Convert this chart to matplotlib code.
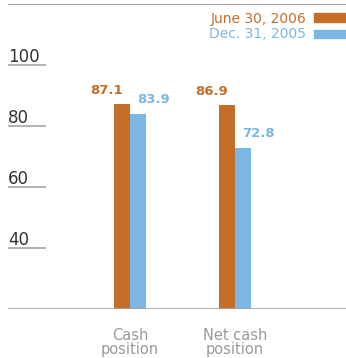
import numpy as np
import matplotlib
matplotlib.use("Agg")
from matplotlib import pyplot as plt
from matplotlib.patches import Rectangle
from matplotlib import transforms

categories = ["Cash\nposition", "Net cash\nposition"]
series_names = ["June 30, 2006", "Dec. 31, 2005"]
june_2006 = [87.1, 86.9]
dec_2005 = [83.9, 72.8]
y_ticks = [40, 60, 80, 100]

orange = "#c46e29"
blue = "#7cb7e4"
rule_grey = "#a6a6a6"
label_grey = "#9a9a9a"

W, H, dpi = 346, 358, 100
fig = plt.figure(figsize=(W / dpi, H / dpi), dpi=dpi)

# axes placed in pixel terms: baseline at y=309, top rule at y=4, left edge x=8
ax = fig.add_axes([8 / W, (H - 309) / H, 1 - 8 / W, (309 - 4) / H])
ax.set_ylim(20, 120)
ax.set_xlim((8 - 130) / 105, (346 - 130) / 105)
ax.axis("off")

x = np.arange(len(categories))
bw = 0.15
ax.bar(x - bw / 2, june_2006, width=bw, bottom=0, color=orange, zorder=2)
ax.bar(x + bw / 2, dec_2005, width=bw, bottom=0, color=blue, zorder=2)

# baseline and top rule
ax.axhline(20, color=rule_grey, lw=1.2, zorder=3)
ax.axhline(120, color="#8c8c8c", lw=1.2, zorder=3)

# short underlined tick labels on the left
ytrans = transforms.blended_transform_factory(ax.transAxes, ax.transData)
for t in y_ticks:
    ax.plot([0, 38 / 338], [t, t], color=rule_grey, lw=1.2, transform=ytrans,
            solid_capstyle="butt")
    ax.annotate(str(t), (0, t), xycoords=ytrans, xytext=(0, 3),
                textcoords="offset pixels", ha="left", va="baseline",
                fontsize=12, color="#333333")

# value labels, pushed outward from each pair
for i in range(len(categories)):
    ax.annotate(f"{june_2006[i]}", (x[i] - bw / 2, june_2006[i]),
                xytext=(-16, 10), textcoords="offset pixels",
                ha="center", va="baseline", fontsize=9.5, fontweight="bold",
                color=orange)
    ax.annotate(f"{dec_2005[i]}", (x[i] + bw / 2, dec_2005[i]),
                xytext=(16, 11), textcoords="offset pixels",
                ha="center", va="baseline", fontsize=9.5, fontweight="bold",
                color=blue)

# category names under the baseline
for i, name in enumerate(categories):
    ax.annotate(name, (x[i], 20), xytext=(0, -19), textcoords="offset pixels",
                ha="center", va="top", fontsize=10.5, color=label_grey,
                linespacing=0.95)

# legend in the top right corner
legend_colors = [orange, blue]
swatch_rows = [(13, 22), (30, 38)]
for name, col, (y0, y1) in zip(series_names, legend_colors, swatch_rows):
    fig.patches.append(Rectangle((314 / W, 1 - y1 / H), 32 / W, (y1 - y0) / H,
                                 transform=fig.transFigure, color=col))
    fig.text(306 / W, 1 - (y1 + 0.5) / H, name, ha="right", va="baseline",
             fontsize=10, color=col)

fig.savefig("out.png", dpi=dpi)
